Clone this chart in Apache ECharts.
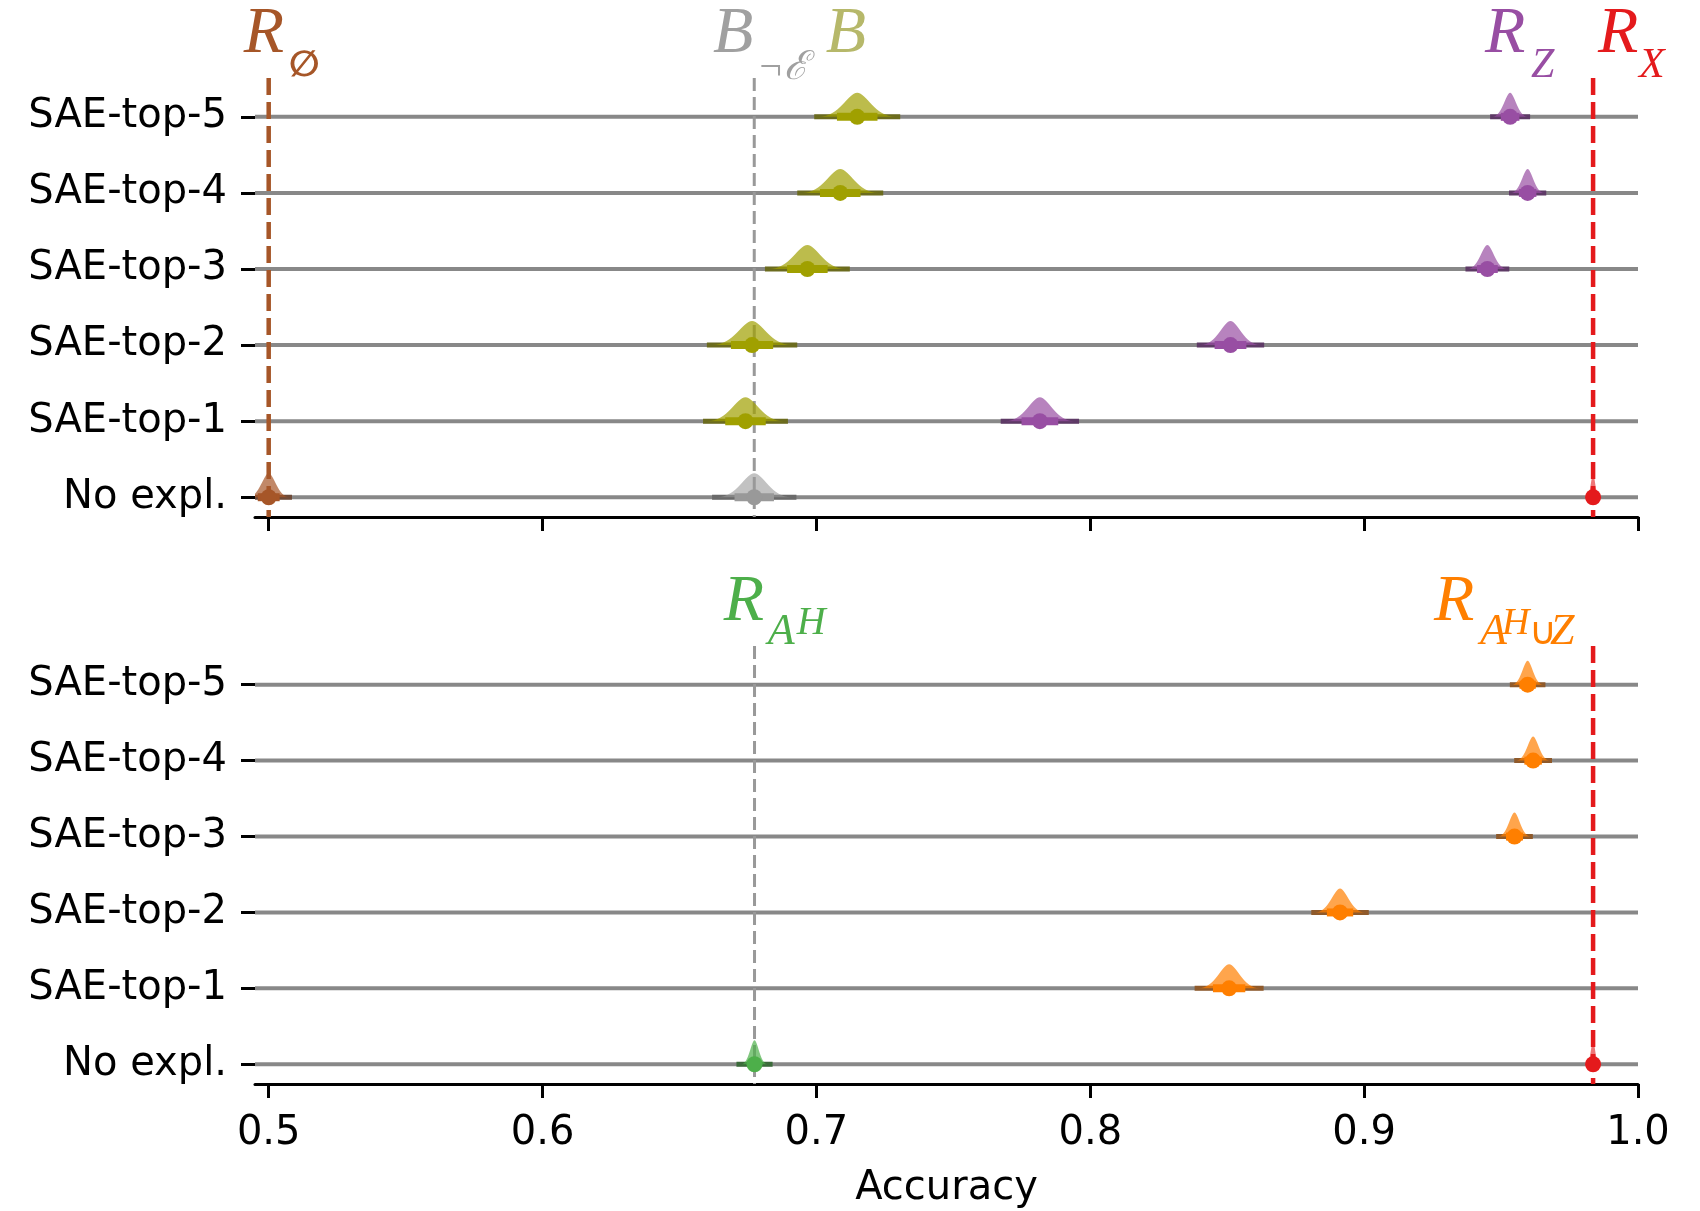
<!DOCTYPE html>
<html><head><meta charset="utf-8">
<script src="https://cdn.jsdelivr.net/npm/echarts@6/dist/echarts.min.js"></script>
<style>html,body{margin:0;padding:0;background:#fff}#c{width:1700px;height:1211px}</style>
</head><body><div id="c"></div><script>
// ---------- data ----------
const categories = ['No expl.', 'SAE-top-1', 'SAE-top-2', 'SAE-top-3', 'SAE-top-4', 'SAE-top-5'];
const xTicks = [0.5, 0.6, 0.7, 0.8, 0.9, 1.0];
const saeRows = [1, 2, 3, 4, 5];

// top panel: B (olive) and R_Z (purple), rows SAE-top-1..5
const bMean   = [0.6741, 0.6765, 0.6967, 0.7087, 0.7149];
const bThin   = [0.0155, 0.0165, 0.0155, 0.0157, 0.0157];
const bThick  = [0.0074, 0.0077, 0.0074, 0.0074, 0.0074];
const rzMean  = [0.7816, 0.8512, 0.9450, 0.9597, 0.9533];
const rzThin  = [0.0143, 0.0123, 0.0080, 0.0068, 0.0073];
const rzThick = [0.0067, 0.0058, 0.0038, 0.0032, 0.0034];
// top panel "No expl." row: R_empty, B_notE, R_X
const noExplTopMean  = [0.5000, 0.6773, 0.9836];
const noExplTopThin  = [0.0085, 0.0154, 0.0022];
const noExplTopThick = [0.0040, 0.0072, 0.0012];

// bottom panel: R_{A^H u Z} (orange), rows SAE-top-1..5
const rahzMean  = [0.8507, 0.8912, 0.9549, 0.9617, 0.9597];
const rahzThin  = [0.0126, 0.0105, 0.0067, 0.0069, 0.0065];
const rahzThick = [0.0059, 0.0048, 0.0031, 0.0032, 0.0030];
// bottom panel "No expl." row: R_{A^H}, R_X
const noExplBotMean  = [0.6774, 0.9836];
const noExplBotThin  = [0.0066, 0.0022];
const noExplBotThick = [0.0025, 0.0012];

// ---------- styles ----------
const C = {
  brown:  {base: '#a65628', light: 'rgba(166,86,40,0.7)',  dark: '#6e4a38', label: '#a65628'},
  gray:   {base: '#999999', light: 'rgba(153,153,153,0.6)', dark: '#6a6a6a', label: '#a0a0a0'},
  olive:  {base: '#a0a000', light: 'rgba(160,160,0,0.7)',  dark: '#6b6b1e', label: '#b6b86a'},
  purple: {base: '#984ea3', light: 'rgba(152,78,163,0.7)', dark: '#5e3a66', label: '#984ea3'},
  red:    {base: '#e41a1c', light: 'rgba(228,26,28,0.6)',  dark: '#8b2020', label: '#e41a1c'},
  green:  {base: '#4daf4a', light: 'rgba(77,175,74,0.7)',  dark: '#3b6b3a', label: '#4daf4a'},
  orange: {base: '#ff7f00', light: 'rgba(255,127,0,0.7)',  dark: '#8f5a2b', label: '#ff7f00'}
};
const FONT = 'DejaVu Sans';
const BUMP_H = 24;

function renderPoint(col) {
  return function (params, api) {
    const cs = params.coordSys;
    const x = api.value(0), row = api.value(1);
    const c = api.coord([x, row]);
    const thinPx = api.size([api.value(2), 0])[0];
    const thickPx = api.size([api.value(3), 0])[0];
    const s = thickPx / 1.7;
    const cx = c[0], cy = c[1];
    const x0 = Math.max(cs.x, cx - thinPx), x1 = Math.min(cs.x + cs.width, cx + thinPx);
    const t0 = Math.max(cs.x, cx - thickPx), t1 = Math.min(cs.x + cs.width, cx + thickPx);
    const p = 'M' + (cx - 3.2 * s) + ' ' + cy +
      ' C' + (cx - 1.5 * s) + ' ' + cy + ' ' + (cx - 0.75 * s) + ' ' + (cy - BUMP_H) + ' ' + cx + ' ' + (cy - BUMP_H) +
      ' C' + (cx + 0.75 * s) + ' ' + (cy - BUMP_H) + ' ' + (cx + 1.5 * s) + ' ' + cy + ' ' + (cx + 3.2 * s) + ' ' + cy + ' Z';
    return {
      type: 'group',
      children: [
        {type: 'rect', shape: {x: x0, y: cy - 2.5, width: x1 - x0, height: 5}, style: {fill: col.dark}},
        {type: 'path', shape: {pathData: p}, style: {fill: col.light}},
        {type: 'rect', shape: {x: t0, y: cy - 4, width: t1 - t0, height: 8}, style: {fill: col.base}},
        {type: 'circle', shape: {cx: cx, cy: cy, r: 8}, style: {fill: col.base}}
      ]
    };
  };
}
function pointSeries(gi, means, thins, thicks, rows, col) {
  return {
    type: 'custom', xAxisIndex: gi, yAxisIndex: gi, z: 5, clip: true,
    renderItem: renderPoint(col),
    data: means.map((m, i) => [m, rows[i], thins[i], thicks[i]])
  };
}
function rowLineSeries(gi) {
  return {
    type: 'custom', xAxisIndex: gi, yAxisIndex: gi, z: 1,
    renderItem: function (params, api) {
      const cs = params.coordSys;
      const y = api.coord([1, api.value(1)])[1];
      return {type: 'rect', shape: {x: cs.x, y: y - 2, width: cs.width, height: 4}, style: {fill: '#888888'}};
    },
    data: categories.map((c, i) => [1, i])
  };
}
function refLineSeries(gi, value, col, width, dash) {
  return {
    type: 'custom', xAxisIndex: gi, yAxisIndex: gi, z: 3,
    renderItem: function (params, api) {
      const cs = params.coordSys;
      const x = api.coord([api.value(0), 0])[0];
      return {type: 'line', shape: {x1: x, y1: cs.y, x2: x, y2: cs.y + cs.height},
        style: {stroke: col.base, lineWidth: width, lineDash: dash}};
    },
    data: [[value, 0]]
  };
}

const yAxisBase = (gi) => ({
  gridIndex: gi, type: 'value', min: -0.26, max: 5.51,
  axisLine: {show: false},
  axisTick: {show: true, customValues: [0, 1, 2, 3, 4, 5], length: 14, lineStyle: {color: '#000', width: 3}},
  axisLabel: {customValues: [0, 1, 2, 3, 4, 5], formatter: v => categories[Math.round(v)], fontFamily: FONT, fontSize: 40, color: '#000', margin: 28, padding: [6, 0, 0, 0]},
  splitLine: {show: false}
});
const xAxisBase = (gi) => ({
  gridIndex: gi, type: 'value', min: 0.495, max: 1.0,
  axisLine: {show: true, onZero: false, lineStyle: {color: '#000', width: 3}},
  axisTick: {show: true, customValues: xTicks, length: 14, lineStyle: {color: '#000', width: 3}},
  axisLabel: {show: gi === 1, customValues: xTicks, formatter: v => v.toFixed(1), fontFamily: FONT, fontSize: 40, color: '#000', margin: 30},
  splitLine: {show: false}
});

const chart = echarts.init(document.getElementById('c'), null, {renderer: 'canvas'});
const xb = xAxisBase(1);
xb.name = 'Accuracy'; xb.nameLocation = 'middle'; xb.nameGap = 85;
xb.nameTextStyle = {fontFamily: FONT, fontSize: 40, color: '#000'};

const DASH_THICK = [17, 7], DASH_THIN = [13, 6];
chart.setOption({
  animation: false,
  backgroundColor: '#fff',
  grid: [
    {left: 255, right: 62, top: 78, height: 439},
    {left: 255, right: 62, top: 646, height: 438}
  ],
  xAxis: [xAxisBase(0), xb],
  yAxis: [yAxisBase(0), yAxisBase(1)],
  series: [
    rowLineSeries(0), rowLineSeries(1),
    refLineSeries(0, noExplTopMean[0], C.brown, 4.5, DASH_THICK),
    refLineSeries(0, noExplTopMean[1], C.gray, 3, DASH_THIN),
    refLineSeries(0, noExplTopMean[2], C.red, 4.5, DASH_THICK),
    refLineSeries(1, noExplBotMean[0], C.gray, 3, DASH_THIN),
    refLineSeries(1, noExplBotMean[1], C.red, 4.5, DASH_THICK),
    pointSeries(0, bMean, bThin, bThick, saeRows, C.olive),
    pointSeries(0, rzMean, rzThin, rzThick, saeRows, C.purple),
    pointSeries(0, [noExplTopMean[0]], [noExplTopThin[0]], [noExplTopThick[0]], [0], C.brown),
    pointSeries(0, [noExplTopMean[1]], [noExplTopThin[1]], [noExplTopThick[1]], [0], C.gray),
    pointSeries(0, [noExplTopMean[2]], [noExplTopThin[2]], [noExplTopThick[2]], [0], C.red),
    pointSeries(1, rahzMean, rahzThin, rahzThick, saeRows, C.orange),
    pointSeries(1, [noExplBotMean[0]], [noExplBotThin[0]], [noExplBotThick[0]], [0], C.green),
    pointSeries(1, [noExplBotMean[1]], [noExplBotThin[1]], [noExplBotThick[1]], [0], C.red)
  ]
});

// ---------- math-style labels above the panels ----------
const SERIF = '"Liberation Serif", "DejaVu Serif", serif';
const labelDefs = [
  {grid: 0, left: 0.4909, col: C.brown, parts: [
    {t: 'R', dx: 0, dy: 0, size: 66, it: true},
    {t: '\u2205', dx: 45, dy: 23, size: 36, it: false, sans: true, bold: true}]},
  {grid: 0, left: 0.6622, col: C.gray, parts: [
    {t: 'B', dx: 0, dy: 0, size: 66, it: true},
    {t: '\u00AC\u2130', dx: 44, dy: 26, size: 40, it: true}]},
  {grid: 0, left: 0.7034, col: C.olive, parts: [
    {t: 'B', dx: 0, dy: 0, size: 66, it: true}]},
  {grid: 0, left: 0.9441, col: C.purple, parts: [
    {t: 'R', dx: 0, dy: 0, size: 66, it: true},
    {t: 'Z', dx: 46, dy: 24, size: 42, it: true}]},
  {grid: 0, left: 0.9854, col: C.red, parts: [
    {t: 'R', dx: 0, dy: 0, size: 66, it: true},
    {t: 'X', dx: 41, dy: 24, size: 42, it: true}]},
  {grid: 1, left: 0.6662, col: C.green, parts: [
    {t: 'R', dx: 0, dy: 0, size: 66, it: true},
    {t: 'A', dx: 44, dy: 23, size: 44, it: true},
    {t: 'H', dx: 73, dy: 13, size: 40, it: true}]},
  {grid: 1, left: 0.9255, col: C.orange, parts: [
    {t: 'R', dx: 0, dy: 0, size: 66, it: true},
    {t: 'A', dx: 46, dy: 23, size: 44, it: true},
    {t: 'H', dx: 68, dy: 13, size: 38, it: true},
    {t: '\u222A', dx: 95, dy: 23, size: 38, it: false, sans: true},
    {t: 'Z', dx: 116, dy: 23, size: 44, it: true}]}
];
const graphics = [];
labelDefs.forEach(L => {
  const lx = chart.convertToPixel({xAxisIndex: L.grid, yAxisIndex: L.grid}, [L.left, 5.51]);
  const baseY = lx[1] - 22;
  L.parts.forEach(p => {
    graphics.push({
      type: 'text', x: lx[0] + p.dx, y: baseY + p.dy - 0.33 * p.size,
      style: {text: p.t, fill: L.col.label,
        font: (p.it ? 'italic ' : '') + (p.bold ? 'bold ' : '') + p.size + 'px ' + (p.sans ? FONT : SERIF),
        textAlign: 'left', textVerticalAlign: 'middle', verticalAlign: 'middle'},
      z: 10
    });
  });
});
chart.setOption({graphic: graphics});
</script></body></html>
